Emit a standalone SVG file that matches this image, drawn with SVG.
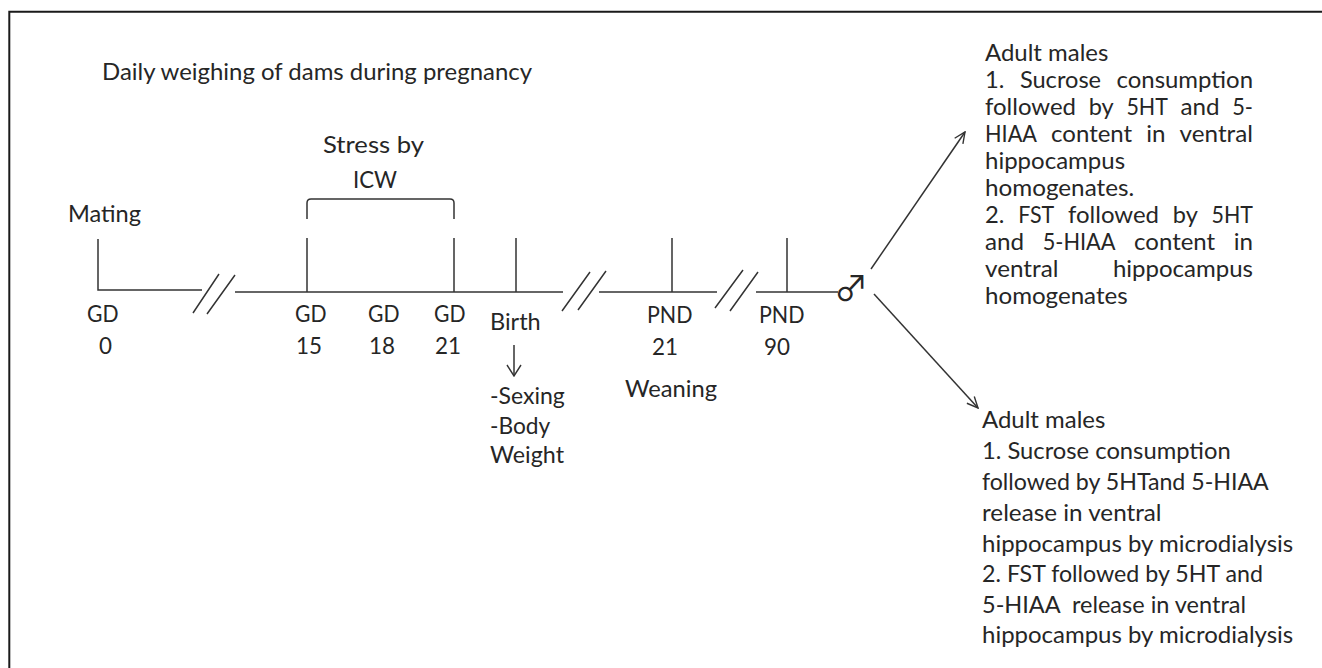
<svg xmlns="http://www.w3.org/2000/svg" width="1322" height="668" viewBox="0 0 1322 668">
  <style>
    .t { font-family: Lato, "Open Sans", "Liberation Sans", sans-serif; font-size: 23.5px; fill: #262626; }
    .ln { fill: none; stroke: #333333; stroke-width: 1.5; }
    .sym { font-family: "Noto Sans CJK JP", "DejaVu Sans", sans-serif; font-size: 34px; fill: #262626; }
  </style>
  <defs>
    <marker id="open" viewBox="-13 -7 14 14" refX="0" refY="0" markerWidth="14" markerHeight="14" markerUnits="userSpaceOnUse" orient="auto">
      <path d="M-11,-5 L0,0 L-11,5" fill="none" stroke="#333333" stroke-width="1.4"/>
    </marker>
    <marker id="down" viewBox="-13 -8 14 16" refX="0" refY="0" markerWidth="14" markerHeight="16" markerUnits="userSpaceOnUse" orient="auto">
      <path d="M-11,-7 L0,0 L-11,7" fill="none" stroke="#333333" stroke-width="1.4"/>
    </marker>
  </defs>
  <rect width="1322" height="668" fill="#ffffff"/>
  <path d="M9.3,668 V11.7 H1322" fill="none" stroke="#1a1a1a" stroke-width="2"/>

  <g id="connectors">
    <path class="ln" d="M98,239 V290 H202"/>
    <path class="ln" d="M193,313 L219,274 M207,314 L235,275"/>
    <path class="ln" d="M235,292 H563"/>
    <path class="ln" d="M562,311 L590,272 M578,310 L606,271"/>
    <path class="ln" d="M599,292 H717"/>
    <path class="ln" d="M715,308 L743,270 M730,311 L758,272"/>
    <path class="ln" d="M756,292 H838"/>
    <path class="ln" d="M307,238 V292 M454,238 V292 M516,238 V292 M672,238 V292 M787,238 V292"/>
    <path class="ln" d="M307,219 V203 Q307,199 311,199 H450 Q454,199 454,203 V219"/>
    <path class="ln" d="M514,345 V376" marker-end="url(#down)"/>
    <path class="ln" d="M871,269 L965,132" marker-end="url(#open)"/>
    <path class="ln" d="M874,294 L978,408" marker-end="url(#open)"/>
  </g>

  <g id="title">
    <text class="t" x="102" y="80" textLength="430" lengthAdjust="spacingAndGlyphs">Daily weighing of dams during pregnancy</text>
  </g>
  <g id="stress">
    <text class="t" x="323" y="153" textLength="101" lengthAdjust="spacingAndGlyphs">Stress by</text>
    <text class="t" x="353" y="188" textLength="44" lengthAdjust="spacingAndGlyphs">ICW</text>
  </g>
  <g id="mating">
    <text class="t" x="68" y="222" textLength="73" lengthAdjust="spacingAndGlyphs">Mating</text>
  </g>
  <g id="gd0">
    <text class="t" x="87" y="322" textLength="31.5" lengthAdjust="spacingAndGlyphs">GD</text>
    <text class="t" x="99" y="354" textLength="13" lengthAdjust="spacingAndGlyphs">0</text>
  </g>
  <g id="gd15">
    <text class="t" x="295" y="322" textLength="31.5" lengthAdjust="spacingAndGlyphs">GD</text>
    <text class="t" x="296" y="354" textLength="26" lengthAdjust="spacingAndGlyphs">15</text>
  </g>
  <g id="gd18">
    <text class="t" x="368" y="322" textLength="31.5" lengthAdjust="spacingAndGlyphs">GD</text>
    <text class="t" x="369" y="354" textLength="26" lengthAdjust="spacingAndGlyphs">18</text>
  </g>
  <g id="gd21">
    <text class="t" x="434" y="322" textLength="31.5" lengthAdjust="spacingAndGlyphs">GD</text>
    <text class="t" x="435" y="354" textLength="26" lengthAdjust="spacingAndGlyphs">21</text>
  </g>
  <g id="birth">
    <text class="t" x="490" y="330" textLength="50.7" lengthAdjust="spacingAndGlyphs">Birth</text>
    <text class="t" x="490" y="404" textLength="74.8" lengthAdjust="spacingAndGlyphs">-Sexing</text>
    <text class="t" x="490" y="434" textLength="60.3" lengthAdjust="spacingAndGlyphs">-Body</text>
    <text class="t" x="490" y="463" textLength="74" lengthAdjust="spacingAndGlyphs">Weight</text>
  </g>
  <g id="pnd21">
    <text class="t" x="647" y="323" textLength="45.5" lengthAdjust="spacingAndGlyphs">PND</text>
    <text class="t" x="652" y="355" textLength="26" lengthAdjust="spacingAndGlyphs">21</text>
    <text class="t" x="625" y="397" textLength="92" lengthAdjust="spacingAndGlyphs">Weaning</text>
  </g>
  <g id="pnd90">
    <text class="t" x="759" y="323" textLength="45.5" lengthAdjust="spacingAndGlyphs">PND</text>
    <text class="t" x="764" y="355" textLength="26" lengthAdjust="spacingAndGlyphs">90</text>
  </g>
  <g id="male">
    <text class="sym" x="834" y="301">♂</text>
  </g>

  <g id="outcome-top">
    <text class="t" x="985" y="61" textLength="123.3" lengthAdjust="spacingAndGlyphs">Adult males</text>
    <text class="t" x="985" y="88" textLength="19.4" lengthAdjust="spacingAndGlyphs">1.</text>
    <text class="t" x="1019.9" y="88" textLength="81.2" lengthAdjust="spacingAndGlyphs">Sucrose</text>
    <text class="t" x="1116.5" y="88" textLength="136.5" lengthAdjust="spacingAndGlyphs">consumption</text>
    <text class="t" x="985" y="115" textLength="91" lengthAdjust="spacingAndGlyphs">followed</text>
    <text class="t" x="1088.7" y="115" textLength="25" lengthAdjust="spacingAndGlyphs">by</text>
    <text class="t" x="1126.4" y="115" textLength="41.4" lengthAdjust="spacingAndGlyphs">5HT</text>
    <text class="t" x="1180.4" y="115" textLength="39.1" lengthAdjust="spacingAndGlyphs">and</text>
    <text class="t" x="1232.2" y="115" textLength="20.8" lengthAdjust="spacingAndGlyphs">5-</text>
    <text class="t" x="985" y="142" textLength="52" lengthAdjust="spacingAndGlyphs">HIAA</text>
    <text class="t" x="1051.1" y="142" textLength="81.1" lengthAdjust="spacingAndGlyphs">content</text>
    <text class="t" x="1146.2" y="142" textLength="19.3" lengthAdjust="spacingAndGlyphs">in</text>
    <text class="t" x="1179.6" y="142" textLength="73.4" lengthAdjust="spacingAndGlyphs">ventral</text>
    <text class="t" x="985" y="169" textLength="140.1" lengthAdjust="spacingAndGlyphs">hippocampus</text>
    <text class="t" x="985" y="196" textLength="149.2" lengthAdjust="spacingAndGlyphs">homogenates.</text>
    <text class="t" x="985" y="223" textLength="19.4" lengthAdjust="spacingAndGlyphs">2.</text>
    <text class="t" x="1018.2" y="223" textLength="36" lengthAdjust="spacingAndGlyphs">FST</text>
    <text class="t" x="1068" y="223" textLength="91" lengthAdjust="spacingAndGlyphs">followed</text>
    <text class="t" x="1172.8" y="223" textLength="25" lengthAdjust="spacingAndGlyphs">by</text>
    <text class="t" x="1211.6" y="223" textLength="41.4" lengthAdjust="spacingAndGlyphs">5HT</text>
    <text class="t" x="985" y="250" textLength="39.1" lengthAdjust="spacingAndGlyphs">and</text>
    <text class="t" x="1042.7" y="250" textLength="72.9" lengthAdjust="spacingAndGlyphs">5-HIAA</text>
    <text class="t" x="1134.1" y="250" textLength="81.1" lengthAdjust="spacingAndGlyphs">content</text>
    <text class="t" x="1233.7" y="250" textLength="19.3" lengthAdjust="spacingAndGlyphs">in</text>
    <text class="t" x="985" y="277" textLength="73.4" lengthAdjust="spacingAndGlyphs">ventral</text>
    <text class="t" x="1112.9" y="277" textLength="140.1" lengthAdjust="spacingAndGlyphs">hippocampus</text>
    <text class="t" x="985" y="304" textLength="142.7" lengthAdjust="spacingAndGlyphs">homogenates</text>
  </g>

  <g id="outcome-bottom">
    <text class="t" x="982" y="428" textLength="123.3" lengthAdjust="spacingAndGlyphs">Adult males</text>
    <text class="t" x="982" y="459" textLength="248.7" lengthAdjust="spacingAndGlyphs">1. Sucrose consumption</text>
    <text class="t" x="982" y="490" textLength="286.8" lengthAdjust="spacingAndGlyphs">followed by 5HTand 5-HIAA</text>
    <text class="t" x="982" y="521" textLength="179.6" lengthAdjust="spacingAndGlyphs">release in ventral</text>
    <text class="t" x="982" y="552" textLength="311.2" lengthAdjust="spacingAndGlyphs">hippocampus by microdialysis</text>
    <text class="t" x="982" y="582" textLength="280.9" lengthAdjust="spacingAndGlyphs">2. FST followed by 5HT and</text>
    <text class="t" x="982" y="613" textLength="264" lengthAdjust="spacingAndGlyphs" xml:space="preserve">5-HIAA  release in ventral</text>
    <text class="t" x="982" y="643" textLength="311.2" lengthAdjust="spacingAndGlyphs">hippocampus by microdialysis</text>
  </g>
</svg>
